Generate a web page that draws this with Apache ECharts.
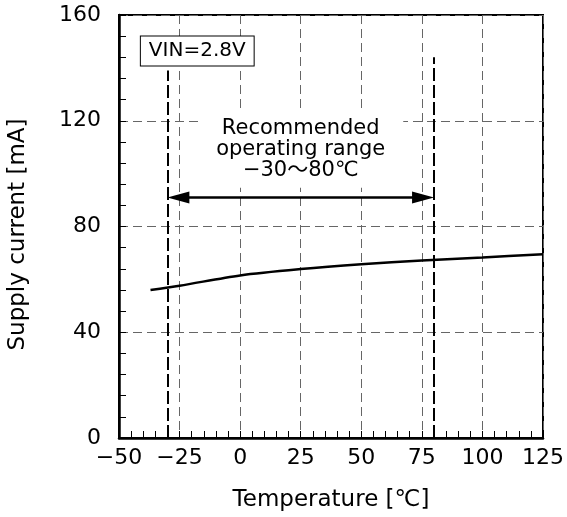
<!DOCTYPE html>
<html>
<head>
<meta charset="utf-8">
<script src="https://cdn.jsdelivr.net/npm/echarts@6/dist/echarts.min.js"></script>
<style>
  html, body { margin: 0; padding: 0; background: #fff; }
  #chart { width: 567px; height: 517px; }
</style>
</head>
<body>
<div id="chart"></div>
<script>
// 数据
var tempC = [-37, -25, 0, 25, 50, 75, 100, 125];
var currentMA = [56.0, 57.6, 61.5, 63.9, 65.7, 67.1, 68.3, 69.5];

// recommended operating range markers
var rangeLimits = [-30, 80];
var rangeTops = [139, 144];
var arrowLevel = 91;
var arrowInset = 4.5; // so the arrow tips sit on the dashed lines
var rangeText = 'Recommended\noperating range\n\u221230\uff5e80\u2103';
var rangeTextPos = [25, 109];
var vinText = 'VIN=2.8V';
var vinPos = [-17.7, 146.4];

var FONT = '"DejaVu Sans", "Noto Sans CJK JP", sans-serif';

var chart = echarts.init(document.getElementById('chart'));

chart.setOption({
  animation: false,
  backgroundColor: '#fff',
  textStyle: { fontFamily: FONT, color: '#000' },
  grid: {
    left: 119, right: 24, top: 15, bottom: 79,
    outerBoundsMode: 'none',
    show: true, borderColor: '#000', borderWidth: 2
  },
  xAxis: {
    type: 'value',
    min: -50, max: 125, interval: 25,
    name: 'Temperature [\u2103]',
    nameLocation: 'middle',
    nameGap: 51,
    nameTextStyle: { fontSize: 23, color: '#000', fontFamily: FONT },
    axisLine: { show: true, onZero: false, lineStyle: { color: '#000', width: 2.5 } },
    axisTick: { show: true, inside: true, length: 7, lineStyle: { color: '#000' } },
    minorTick: { show: true, splitNumber: 5, length: 7, lineStyle: { color: '#000' } },
    axisLabel: {
      fontSize: 22, color: '#000', margin: 9, fontFamily: FONT,
      formatter: function (v) { return String(v).replace('-', '\u2212'); }
    },
    splitLine: { show: true, lineStyle: { color: '#666', width: 1, type: [9, 5] } }
  },
  yAxis: {
    type: 'value',
    min: 0, max: 160, interval: 40,
    name: 'Supply current [mA]',
    nameLocation: 'middle',
    nameGap: 89,
    nameTextStyle: { fontSize: 23, color: '#000', fontFamily: FONT, padding: [0, 16, 0, 0] },
    axisLine: { show: true, onZero: false, lineStyle: { color: '#000', width: 2.5 } },
    axisTick: { show: true, inside: true, length: 7, lineStyle: { color: '#000' } },
    minorTick: { show: true, splitNumber: 5, length: 7, lineStyle: { color: '#000' } },
    axisLabel: { fontSize: 22, color: '#000', margin: 18, fontFamily: FONT },
    splitLine: { show: true, lineStyle: { color: '#666', width: 1, type: [9, 5] } }
  },
  series: [
    {
      // 电流曲线
      type: 'line',
      data: tempC.map(function (t, i) { return [t, currentMA[i]]; }),
      smooth: 0.3,
      symbol: 'none',
      lineStyle: { color: '#000', width: 2.5 },
      markPoint: {
        symbol: 'circle',
        symbolSize: 0,
        data: [
          {
            coord: vinPos,
            label: {
              show: true, position: 'inside', formatter: vinText,
              fontSize: 20, color: '#000', fontFamily: FONT,
              backgroundColor: '#fff', borderColor: '#000', borderWidth: 1,
              padding: [5, 8, 4, 8]
            }
          },
          {
            coord: rangeTextPos,
            label: {
              show: true, position: 'inside', formatter: rangeText,
              fontSize: 21, lineHeight: 21, color: '#000', fontFamily: FONT,
              align: 'center', backgroundColor: '#fff', padding: [7, 18, 6, 18]
            }
          }
        ]
      }
    },
    {
      // 推荐范围竖线
      type: 'line',
      data: [],
      markLine: {
        silent: true,
        symbol: 'none',
        label: { show: false },
        lineStyle: { color: '#000', width: 2, type: [13, 4] },
        data: rangeLimits.map(function (x, i) {
          return [{ coord: [x, 0] }, { coord: [x, rangeTops[i]] }];
        })
      }
    },
    {
      // 双向箭头
      type: 'line',
      data: [],
      markLine: {
        silent: true,
        symbol: ['triangle', 'triangle'],
        symbolSize: [12, 22],
        label: { show: false },
        lineStyle: { color: '#000', width: 2.5, type: 'solid' },
        itemStyle: { color: '#000' },
        data: [[
          { coord: [rangeLimits[0] + arrowInset, arrowLevel] },
          { coord: [rangeLimits[1] - arrowInset, arrowLevel] }
        ]]
      }
    }
  ]
});
</script>
</body>
</html>
